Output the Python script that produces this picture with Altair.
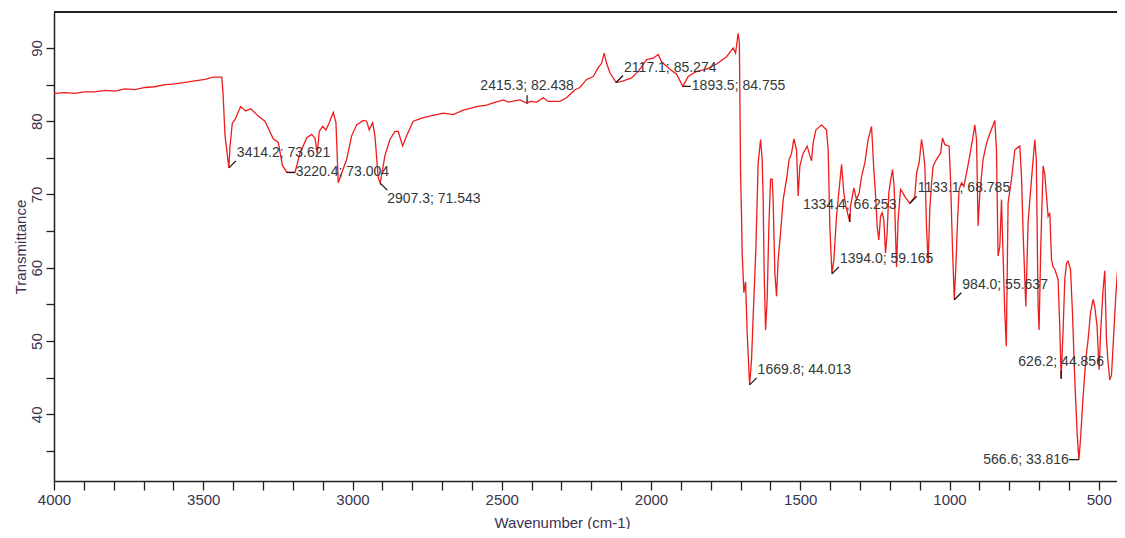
import altair as alt
import pandas as pd

# ---- spectrum (wavenumber cm-1, transmittance %) ----
wavenumber = [
    4000, 3963, 3930, 3896, 3863, 3829, 3796, 3762, 3729, 3695, 3662, 3628, 3595, 3561, 3528,
    3494, 3467, 3438, 3434, 3427, 3414.2, 3410.5, 3402.8, 3393.8, 3374.7, 3357.9, 3341.2,
    3315.7, 3293.3, 3265.5, 3248.7, 3235, 3220.4, 3192.8, 3176.1, 3153.6, 3136.9, 3125.8,
    3118.1, 3111.4, 3100, 3089, 3078, 3064.5, 3055.5, 3047.8, 3036.4, 3019.6, 3002.9, 2986.1,
    2964, 2952.7, 2944, 2932.6, 2924.9, 2913.8, 2907.3, 2891.4, 2874.6, 2857.9, 2846.8,
    2832.1, 2818.7, 2796.6, 2763.1, 2729.6, 2696.1, 2662.6, 2629.1, 2584.2, 2550.7, 2528.7,
    2495.2, 2478.4, 2439.2, 2415.3, 2405.7, 2383.3, 2361.2, 2344.5, 2305.3, 2282.8, 2255,
    2238.3, 2215.8, 2193.7, 2176.9, 2165.6, 2156.9, 2148.8, 2137.8, 2117.1, 2093.2, 2065.1,
    2043, 2014.8, 1992.7, 1976, 1964.6, 1936.8, 1914.4, 1893.5, 1875.6, 1847.4, 1813.9,
    1780.4, 1746.9, 1724.8, 1716.8, 1708.1, 1704, 1700, 1696.7, 1694.7, 1689, 1683.3, 1677.9,
    1669.8, 1663.2, 1657.8, 1648.8, 1641.1, 1633, 1627.7, 1624.3, 1621, 1616.3, 1610.9,
    1605.2, 1599.5, 1594.2, 1590.9, 1585.2, 1579.5, 1574.1, 1566.1, 1557.3, 1546, 1537.3,
    1529.2, 1521.5, 1512.5, 1507.1, 1501.4, 1490.4, 1477, 1467.9, 1462.2, 1456.9, 1447.9,
    1428.7, 1412, 1406.6, 1401, 1394.0, 1387.5, 1378.6, 1369.9, 1361.7, 1354.1, 1347.4,
    1334.4, 1331.6, 1320.6, 1311.6, 1302.9, 1294.8, 1283.7, 1272.7, 1261.3, 1253.6, 1246.9,
    1242.6, 1236.9, 1231.2, 1225.8, 1220.1, 1214.4, 1209.1, 1203.4, 1196.7, 1191, 1185.6,
    1177.6, 1172.2, 1164.2, 1158.8, 1149.7, 1138.7, 1133.1, 1116.3, 1110.5, 1101.9, 1093.8,
    1088.4, 1082.7, 1077.1, 1071.7, 1066, 1060.3, 1054.9, 1043.6, 1030.2, 1023.5, 1015.8,
    1001.4, 996.7, 990, 984.0, 978.9, 973.3, 967.9, 959.8, 952.1, 943.1, 932.1, 921, 915.3,
    909.6, 904.3, 898.5, 887.5, 876.1, 865.1, 848.4, 842.7, 837.4, 831.6, 825.9, 821.6,
    814.8, 809.8, 803.8, 792.4, 781.3, 764.6, 758.9, 753.5, 744.5, 736.8, 725.4, 714.3,
    709.3, 703.3, 700, 694.3, 686.5, 680.8, 669.8, 664.1, 658.4, 653.1, 647.3, 636.4, 630.7,
    626.2, 619.5, 613.9, 608.2, 602.9, 594.8, 588.1, 580.4, 572.7, 566.6, 561.2, 552.5,
    543.5, 535.8, 527.8, 519.1, 513.4, 505.7, 499, 493.4, 485.7, 480, 474.3, 468.9, 463.2,
    457.5, 452.2, 443.1, 435.4, 427.4, 418.9, 413,
]
transmittance = [
    83.8, 83.9, 83.8, 84.0, 84.0, 84.2, 84.1, 84.4, 84.3, 84.6, 84.7, 85.0, 85.1, 85.3, 85.5,
    85.7, 86.0, 86.0, 84.0, 78.0, 73.621, 76.5, 79.7, 80.2, 82.0, 81.4, 81.7,
    80.7, 80.0, 77.6, 77.1, 74.0, 73.004, 73.0, 75.6, 77.7, 78.2, 77.7,
    75.6, 78.6, 79.3, 78.8, 79.8, 81.2, 79.8, 71.6, 72.9, 74.8, 78.0, 79.5,
    80.1, 80.0, 78.8, 79.8, 78.0, 72.3, 71.543, 75.3, 77.5, 78.6, 78.6,
    76.6, 78.0, 80.0, 80.5, 80.8, 81.1, 80.9, 81.5, 82.0, 82.2, 82.5,
    82.9, 82.6, 82.9, 82.438, 82.7, 82.6, 83.2, 82.7, 82.7, 83.2, 84.3,
    84.6, 85.7, 86.1, 87.3, 87.9, 89.3, 87.9, 86.6, 85.274, 85.5, 85.9,
    86.8, 88.4, 88.6, 89.1, 88.1, 87.1, 86.4, 84.755, 86.1, 86.8, 87.1,
    87.8, 88.8, 90.0, 89.3, 92.0, 90.7, 73.1, 66.9, 62.0, 56.6, 58.1, 51.1,
    44.013, 47.5, 53.4, 62.5, 74.3, 77.5, 74.8, 69.3, 59.3, 51.5, 55.7,
    65.7, 72.1, 72.1, 69.3, 59.3, 56.1, 61.1, 64.7, 69.3, 72.1, 74.8,
    75.6, 77.6, 76.1, 69.8, 73.9, 75.6, 76.6, 75.3, 74.6, 77.0, 78.8,
    79.5, 78.8, 76.1, 65.7, 59.165, 61.1, 67.0, 70.7, 74.1, 70.2, 68.4,
    66.253, 68.4, 70.9, 69.3, 70.2, 72.4, 74.3, 77.5, 79.3, 73.4, 69.3,
    65.7, 63.8, 67.0, 67.5, 66.5, 62.0, 64.7, 70.2, 72.1, 73.4, 71.1,
    60.1, 66.5, 70.7, 70.4, 69.7, 69.1, 68.785, 69.7, 72.9, 74.3, 77.5,
    76.1, 73.9, 65.7, 60.6, 68.0, 71.6, 73.9, 74.8, 75.6, 77.7, 76.8,
    76.6, 72.1, 62.5, 55.637, 60.1, 66.2, 70.7, 71.6, 71.1, 72.9, 75.3, 78.0, 79.5,
    77.5, 65.7, 70.2, 74.8, 77.0, 78.3, 80.1, 76.1, 61.6, 62.9, 69.3, 63.0,
    53.8, 49.3, 68.9, 72.1, 76.1, 76.6, 72.4, 64.8, 54.7, 66.2, 72.1, 77.5,
    74.7, 54.7, 51.5, 63.0, 73.9, 72.7, 67.0, 67.5, 61.1, 60.1, 59.8, 58.4, 52.0,
    44.856, 51.5, 58.4, 60.6, 60.9, 59.8, 53.8, 44.7, 37.5, 33.816, 36.6, 42.5,
    47.5, 50.2, 53.8, 55.7, 54.7, 52.0, 46.1, 51.5, 57.0, 59.6, 50.2, 47.1, 44.7,
    45.3, 49.3, 56.1, 60.8, 63.4, 66.2, 67.1,
]

# ---- peak annotations ----
peak_wn = [3414.2, 3220.4, 2907.3, 2415.3, 2117.1, 1893.5, 1669.8, 1394.0, 1334.4,
           1133.1, 984.0, 626.2, 566.6]
peak_t = [73.621, 73.004, 71.543, 82.438, 85.274, 84.755, 44.013, 59.165, 66.253,
          68.785, 55.637, 44.856, 33.816]
peak_side = ["ur", "r", "dr", "u", "ur", "r", "ur", "ur", "u", "ur", "ur", "u", "l"]

# ---- axis ticks ----
x_ticks = list(range(500, 4001, 100))
y_ticks = [35, 40, 45, 50, 55, 60, 65, 70, 75, 80, 85, 90]

W, H = 1063, 469
FONT = "Liberation Sans"
AXIS_COLOR = "#222222"
LABEL_COLOR = "#3a3352"

spec = pd.DataFrame({"wn": wavenumber, "t": transmittance})
peaks = pd.DataFrame({
    "wn": peak_wn, "t": peak_t, "side": peak_side,
    "label": [f"{w:.1f}; {t:.3f}" for w, t in zip(peak_wn, peak_t)],
})

xscale = alt.Scale(domain=[4000, 439], nice=False, zero=False)
yscale = alt.Scale(domain=[30.9, 94.9], nice=False, zero=False)

xaxis = alt.Axis(
    values=x_ticks, labelExpr="datum.value % 500 === 0 ? datum.label : ''",
    format="d", grid=False, tickSize=9, labelPadding=2, labelFlush=False,
    labelOverlap=False, labelFontSize=15, labelFont=FONT, labelColor=LABEL_COLOR,
    domainColor=AXIS_COLOR, domainWidth=1.5, tickColor=AXIS_COLOR, tickWidth=1.3,
    title="Wavenumber (cm-1)", titleFont=FONT, titleFontSize=15,
    titleFontWeight="normal", titleColor=LABEL_COLOR, titleX=508, titleY=34,
    titleBaseline="top", titleAnchor="start", titleAlign="center",
)
yaxis = alt.Axis(
    values=y_ticks, labelExpr="datum.value % 10 === 0 ? datum.label : ''",
    grid=False, tickSize=8, labelPadding=2, labelAngle=270, labelAlign="center",
    labelBaseline="bottom", labelOverlap=False, labelFontSize=15, labelFont=FONT,
    labelColor=LABEL_COLOR, domainColor=AXIS_COLOR, domainWidth=1.5,
    tickColor=AXIS_COLOR, tickWidth=1.3,
    title="Transmittance", titleFont=FONT, titleFontSize=15,
    titleFontWeight="normal", titleColor=LABEL_COLOR, titleAngle=270,
    titleX=-34, titleY=H / 2, titleAlign="center", titleBaseline="middle",
    titleAnchor="start",
)

X = alt.X("wn:Q", scale=xscale, axis=xaxis, sort=None)
Y = alt.Y("t:Q", scale=yscale, axis=yaxis)

line = alt.Chart(spec).mark_line(color="#ee1c1c", strokeWidth=1.3, clip=True).encode(
    x=X, y=Y, order=alt.Order("wn:Q", sort="descending"),
)

base = alt.Chart(peaks)

sides = {
    # side: (x2Offset, y2Offset, dx, dy, align)
    "ur": (7, -7, 8, -15, "left"),
    "r": (8, 0, 9, 0, "left"),
    "dr": (7, 7, 7, 16, "left"),
    "u": (0, -8, 0, -17, "center"),
    "l": (-10, 0, -10, 0, "right"),
}
layers = [line]
for side, (ox, oy, dx, dy, align) in sides.items():
    sel = base.transform_filter(alt.datum.side == side)
    layers.append(
        sel.mark_rule(color="#111111", strokeWidth=1.2, x2Offset=ox, y2Offset=oy).encode(
            x=X, x2="wn:Q", y=Y, y2="t:Q")
    )
    layers.append(
        sel.mark_text(font=FONT, fontSize=14, color="#333838", align=align,
                      baseline="middle", dx=dx, dy=dy).encode(x=X, y=Y, text="label:N")
    )

frame_top = alt.Chart(peaks).mark_rule(color=AXIS_COLOR, strokeWidth=1.5).encode(
    x=alt.value(0), x2=alt.value(W), y=alt.value(0)
)
layers.append(frame_top)

chart = alt.layer(*layers).properties(
    width=W, height=H,
    autosize=alt.AutoSizeParams(type="none"),
    padding={"left": 46, "top": 4, "right": 0, "bottom": 48},
).configure_view(stroke=None).configure(background="white")

chart.save("out.html", embed_options={"renderer": "svg", "actions": False})
